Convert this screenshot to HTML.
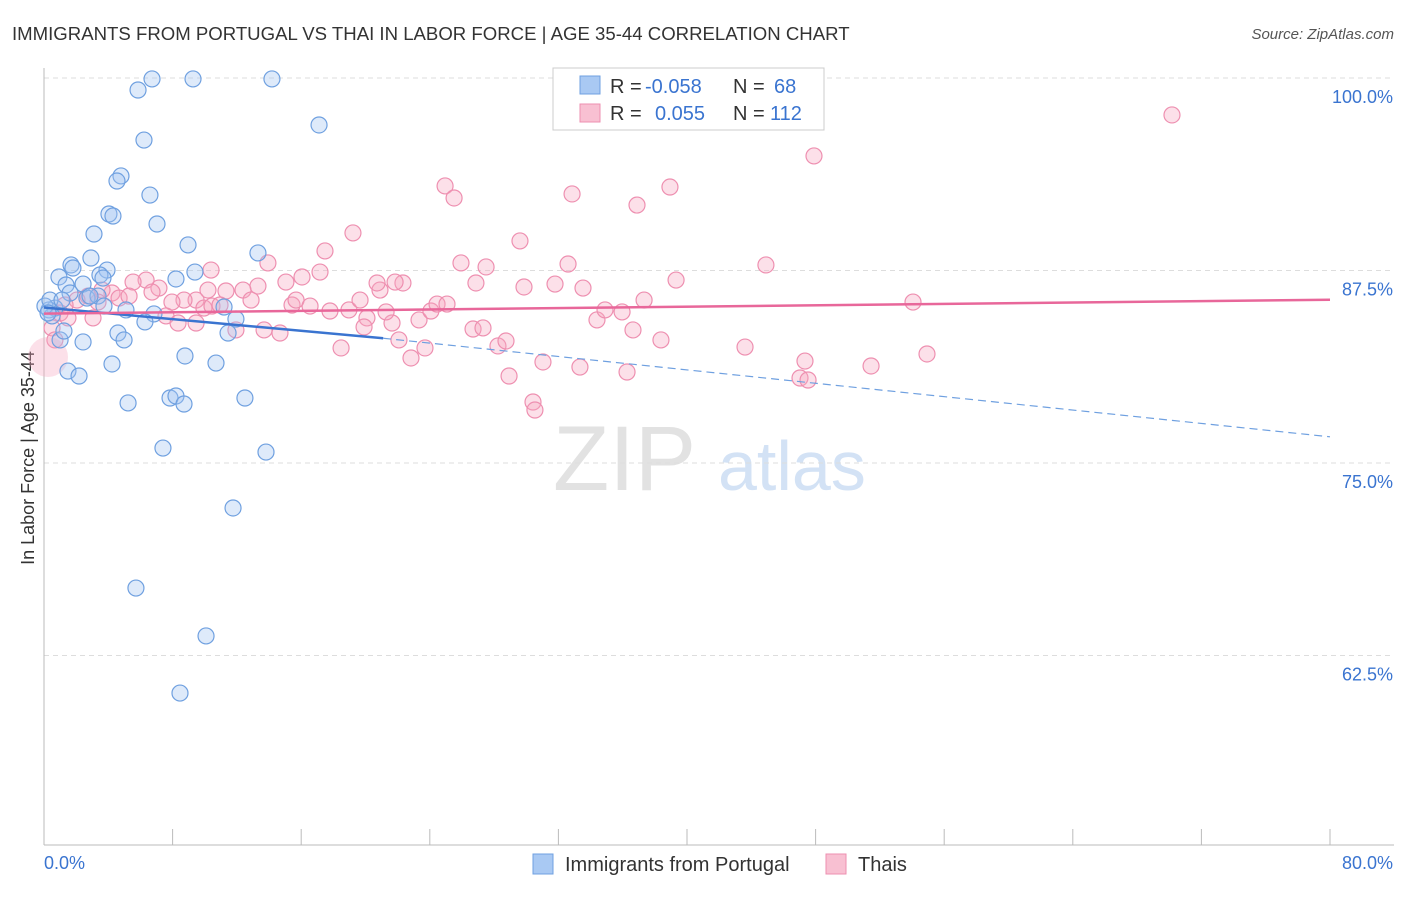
<!DOCTYPE html>
<html><head><meta charset="utf-8"><style>
body{margin:0;background:#fff;font-family:"Liberation Sans",sans-serif;}
svg text{font-family:"Liberation Sans",sans-serif;}
</style></head><body>
<svg id="chart" width="1406" height="892">
<text x="12" y="40" font-size="18.6" fill="#333">IMMIGRANTS FROM PORTUGAL VS THAI IN LABOR FORCE | AGE 35-44 CORRELATION CHART</text>
<text x="1394" y="39" font-size="15" fill="#555" font-style="italic" text-anchor="end">Source: ZipAtlas.com</text>
<text x="34" y="458" font-size="18" fill="#333" text-anchor="middle" transform="rotate(-90 34 458)">In Labor Force | Age 35-44</text>
<g><text x="553" y="490" font-size="92" fill="#e2e2e2" font-family="Liberation Serif">ZIP</text><text x="718" y="490" font-size="70" fill="#d3e2f5">atlas</text></g>
<g id="grid"></g><g id="axes"></g><g id="pts"></g><g id="trend"></g>
<g>
<rect x="553" y="68" width="271" height="62" fill="#fff" stroke="#ccc"/>
<rect x="580" y="76" width="20" height="18" fill="#a9c9f3" stroke="#6fa0e0"/>
<rect x="580" y="104" width="20" height="18" fill="#f8c0d2" stroke="#ee8fb0"/>
<text x="610" y="93" font-size="20" fill="#333">R =</text>
<text x="645" y="93" font-size="20" fill="#3a74d0">-0.058</text>
<text x="733" y="93" font-size="20" fill="#333">N =</text>
<text x="774" y="93" font-size="20" fill="#3a74d0">68</text>
<text x="610" y="120" font-size="20" fill="#333">R =</text>
<text x="655" y="120" font-size="20" fill="#3a74d0">0.055</text>
<text x="733" y="120" font-size="20" fill="#333">N =</text>
<text x="770" y="120" font-size="20" fill="#3a74d0">112</text>
</g>
<g>
<rect x="533" y="854" width="20" height="20" fill="#a9c9f3" stroke="#6fa0e0"/>
<text x="565" y="871" font-size="20" fill="#333">Immigrants from Portugal</text>
<rect x="826" y="854" width="20" height="20" fill="#f8c0d2" stroke="#ee8fb0"/>
<text x="858" y="871" font-size="20" fill="#333">Thais</text>
</g>
</svg>
<script>
const xTicks=[0,8,16,24,32,40,48,56,64,72,80];
const yTicks=[62.5,75,87.5,100];
const bluePx=[[152,79],[193,79],[272,79],[138,90],[319,125],[144,140],[121,176],[117,181],[150,195],[109,214],[113,216],[157,224],[94,234],[188,245],[258,253],[91,258],[71,265],[73,268],[59,277],[107,270],[100,275],[176,279],[195,272],[66,285],[83,284],[103,278],[87,298],[98,296],[70,293],[55,308],[49,310],[52,316],[45,306],[104,306],[126,310],[154,314],[145,322],[236,319],[224,307],[228,333],[118,333],[124,340],[83,342],[60,340],[64,331],[185,356],[216,363],[112,364],[68,371],[79,376],[128,403],[170,398],[176,396],[184,404],[245,398],[163,448],[266,452],[233,508],[136,588],[206,636],[180,693],[50,300],[48,313],[62,300],[90,296]];
const pinkPx=[[1172,115],[814,156],[670,187],[445,186],[454,198],[572,194],[637,205],[353,233],[520,241],[325,251],[211,270],[268,263],[461,263],[486,267],[568,264],[766,265],[676,280],[476,283],[524,287],[555,284],[583,288],[403,283],[395,282],[380,290],[377,283],[320,272],[302,277],[286,282],[258,286],[243,290],[226,291],[208,290],[196,300],[184,300],[172,302],[159,288],[146,280],[133,282],[112,293],[119,298],[129,296],[102,290],[98,302],[88,296],[77,300],[65,305],[60,313],[68,318],[93,318],[152,292],[166,316],[178,323],[196,323],[204,308],[236,330],[264,330],[280,333],[292,305],[296,300],[310,306],[330,311],[349,310],[360,300],[367,318],[392,323],[386,312],[419,320],[431,311],[437,304],[447,304],[473,329],[483,328],[498,346],[506,341],[509,376],[533,402],[535,410],[543,362],[580,367],[597,320],[605,310],[622,312],[633,330],[644,300],[661,340],[627,372],[745,347],[805,361],[800,378],[808,380],[871,366],[913,302],[927,354],[411,358],[425,348],[399,340],[341,348],[364,327],[251,300],[212,306],[52,328],[55,340],[220,305]];
const toVal=p=>[+((p[0]-44)/1286*80).toFixed(2),+(100-(p[1]-78)/15.4).toFixed(2)];
const portugalX=bluePx.map(p=>toVal(p)[0]), portugalY=bluePx.map(p=>toVal(p)[1]);
const thaiX=pinkPx.map(p=>toVal(p)[0]), thaiY=pinkPx.map(p=>toVal(p)[1]);
const blueTrend=[[0,85.1],[21.1,83.1],[80,76.7]];
const pinkTrend=[[0,84.7],[80,85.6]];
const X=v=>44+v/80*1286, Y=v=>78+(100-v)*15.4;
const NS="http://www.w3.org/2000/svg";
function mk(tag,attrs,parent){const e=document.createElementNS(NS,tag);for(const k in attrs)e.setAttribute(k,attrs[k]);parent.appendChild(e);return e;}
const grid=document.getElementById('grid'),axes=document.getElementById('axes');
yTicks.forEach(v=>{const l=mk('line',{x1:44,x2:1394,y1:Y(v),y2:Y(v),stroke:'#ddd','stroke-dasharray':'5,4'},grid);


const t=mk('text',{x:1393,y:Y(v)+25,'font-size':18,fill:'#3a74d0','text-anchor':'end'},axes);t.textContent=v.toFixed(1)+'%';

});
mk('line',{x1:44,x2:44,y1:68,y2:845,stroke:'#bbb'},axes);
mk('line',{x1:44,x2:1394,y1:845,y2:845,stroke:'#bbb'},axes);
xTicks.forEach(v=>{const l=mk('line',{x1:X(v),x2:X(v),y1:829,y2:845,stroke:'#bbb'},axes);

});
[[0,'start','0.0%',44],[80,'end','80.0%',1393]].forEach(a=>{const t=mk('text',{x:a[3],y:869,'font-size':18,fill:'#3a74d0','text-anchor':a[1]},axes);t.textContent=a[2];

});
const pts=document.getElementById('pts');
thaiX.forEach((x,i)=>{const c=mk('circle',{cx:X(x),cy:Y(thaiY[i]),r:8,fill:'rgba(245,165,192,0.35)',stroke:'#ee8fb0','stroke-width':1.2},pts);

});
{const c=mk('circle',{cx:48,cy:357,r:20,fill:'rgba(245,165,192,0.35)',stroke:'none'},pts);

}
portugalX.forEach((x,i)=>{const c=mk('circle',{cx:X(x),cy:Y(portugalY[i]),r:8,fill:'rgba(160,196,240,0.35)',stroke:'#6fa0e0','stroke-width':1.2},pts);

});
const tr=document.getElementById('trend');
let l=mk('line',{x1:X(blueTrend[0][0]),y1:Y(blueTrend[0][1]),x2:X(blueTrend[1][0]),y2:Y(blueTrend[1][1]),stroke:'#3a74d0','stroke-width':2.5},tr);


l=mk('line',{x1:X(blueTrend[1][0]),y1:Y(blueTrend[1][1]),x2:X(blueTrend[2][0]),y2:Y(blueTrend[2][1]),stroke:'#6fa0e0','stroke-width':1.2,'stroke-dasharray':'8,5'},tr);


l=mk('line',{x1:X(pinkTrend[0][0]),y1:Y(pinkTrend[0][1]),x2:X(pinkTrend[1][0]),y2:Y(pinkTrend[1][1]),stroke:'#e8679a','stroke-width':2.5},tr);


</script>
</body></html>
